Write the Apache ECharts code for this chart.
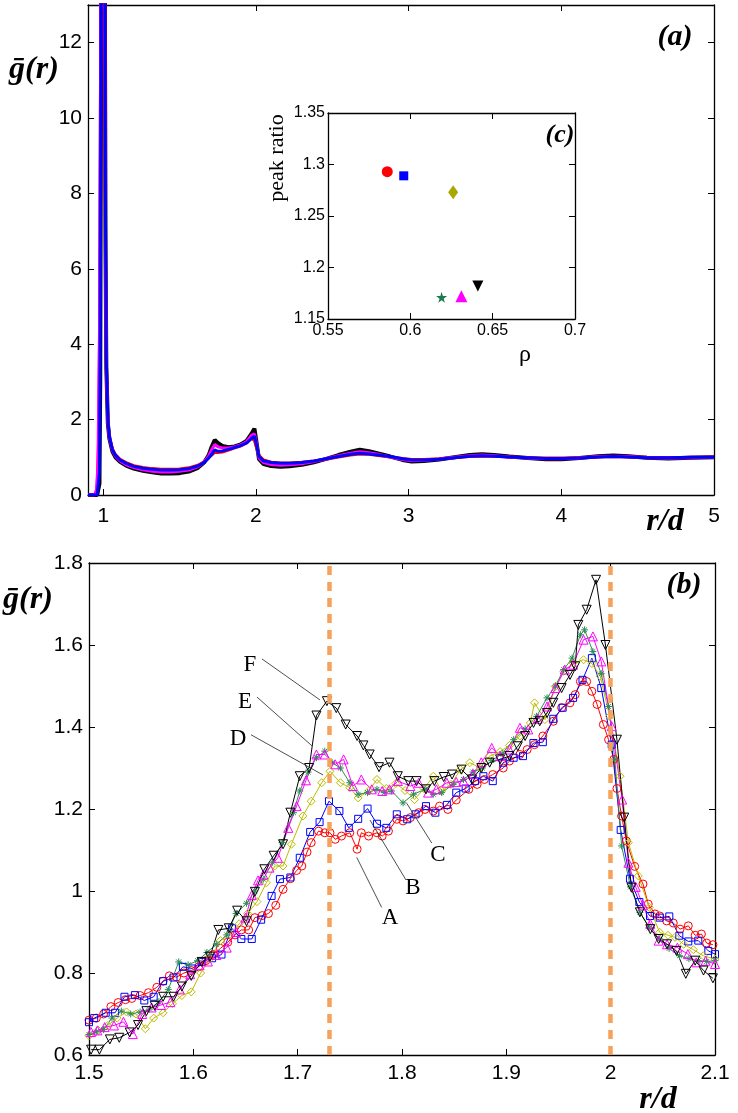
<!DOCTYPE html>
<html>
<head>
<meta charset="utf-8">
<script src="https://cdn.jsdelivr.net/npm/echarts@6/dist/echarts.min.js"></script>
<style>
html, body { margin: 0; padding: 0; background: #fff; }
#chart { width: 738px; height: 1113px; }
</style>
</head>
<body>
<div id="chart"></div>
<script>
// ---- panel (a): g(r) over the full range, one curve per packing ----
var topBlack = [[0.90,0],[0.96,0],[0.97,0.02],[0.975,0.3],[0.98,3],[0.985,11],[0.99,24],[0.995,32],[1.00,32],[1.005,25],[1.01,14],[1.015,6.5],[1.02,3.4],[1.03,1.9],[1.04,1.5],[1.06,1.15],[1.08,1.0],[1.11,0.88],[1.15,0.78],[1.20,0.7],[1.26,0.64],[1.32,0.6],[1.38,0.57],[1.44,0.57],[1.50,0.58],[1.56,0.62],[1.62,0.72],[1.66,0.86],[1.69,1.05],[1.71,1.28],[1.73,1.46],[1.75,1.38],[1.78,1.3],[1.82,1.27],[1.86,1.29],[1.90,1.34],[1.94,1.44],[1.97,1.62],[1.99,1.76],[2.00,1.5],[2.02,0.95],[2.05,0.82],[2.10,0.77],[2.16,0.75],[2.22,0.76],[2.30,0.8],[2.38,0.87],[2.46,0.96],[2.54,1.06],[2.62,1.15],[2.68,1.2],[2.74,1.16],[2.80,1.1],[2.88,1.02],[2.96,0.93],[3.02,0.89],[3.10,0.9],[3.20,0.94],[3.30,1.0],[3.40,1.06],[3.48,1.08],[3.56,1.06],[3.66,1.02],[3.78,0.98],[3.90,0.95],[4.00,0.95],[4.12,0.98],[4.24,1.03],[4.34,1.05],[4.44,1.03],[4.56,0.99],[4.70,0.97],[4.85,0.99],[5.00,1.0]];
var topRed = [[0.90,0],[0.945,0],[0.96,0.2],[0.97,1.5],[0.98,7],[0.985,13],[0.99,20],[0.995,24],[1.00,24],[1.005,19],[1.01,11],[1.015,6],[1.02,3.3],[1.03,1.95],[1.04,1.55],[1.06,1.22],[1.08,1.07],[1.11,0.95],[1.15,0.86],[1.20,0.78],[1.26,0.73],[1.32,0.7],[1.38,0.68],[1.44,0.68],[1.50,0.69],[1.56,0.72],[1.62,0.79],[1.66,0.88],[1.69,0.99],[1.71,1.06],[1.73,1.13],[1.75,1.13],[1.78,1.14],[1.82,1.19],[1.86,1.25],[1.90,1.3],[1.94,1.39],[1.97,1.5],[1.99,1.45],[2.00,1.3],[2.02,1.05],[2.05,0.93],[2.10,0.87],[2.16,0.85],[2.22,0.85],[2.30,0.87],[2.38,0.9],[2.46,0.95],[2.54,1.01],[2.62,1.06],[2.68,1.09],[2.74,1.08],[2.80,1.05],[2.88,1.01],[2.96,0.97],[3.02,0.94],[3.10,0.94],[3.20,0.96],[3.30,0.99],[3.40,1.02],[3.48,1.03],[3.56,1.03],[3.66,1.01],[3.78,0.99],[3.90,0.98],[4.00,0.98],[4.12,0.99],[4.24,1.01],[4.34,1.02],[4.44,1.01],[4.56,1.0],[4.70,0.99],[4.85,1.0],[5.00,1.0]];
var topMagenta = [[0.90,0],[0.94,0],[0.955,0.1],[0.965,0.8],[0.975,4],[0.985,14],[0.99,22],[0.995,27],[1.00,27],[1.005,22],[1.01,13],[1.015,6.5],[1.02,3.5],[1.03,1.95],[1.04,1.52],[1.06,1.18],[1.08,1.03],[1.11,0.9],[1.15,0.8],[1.20,0.73],[1.26,0.67],[1.32,0.63],[1.38,0.61],[1.44,0.61],[1.50,0.63],[1.56,0.66],[1.62,0.75],[1.66,0.87],[1.69,1.03],[1.71,1.2],[1.73,1.34],[1.75,1.28],[1.78,1.25],[1.82,1.25],[1.86,1.28],[1.90,1.33],[1.94,1.42],[1.97,1.58],[1.99,1.62],[2.00,1.45],[2.02,0.98],[2.05,0.86],[2.10,0.81],[2.16,0.79],[2.22,0.8],[2.30,0.83],[2.38,0.89],[2.46,0.96],[2.54,1.04],[2.62,1.11],[2.68,1.15],[2.74,1.12],[2.80,1.08],[2.88,1.01],[2.96,0.94],[3.02,0.91],[3.10,0.92],[3.20,0.95],[3.30,1.0],[3.40,1.04],[3.48,1.06],[3.56,1.04],[3.66,1.01],[3.78,0.98],[3.90,0.96],[4.00,0.96],[4.12,0.98],[4.24,1.02],[4.34,1.03],[4.44,1.02],[4.56,0.99],[4.70,0.98],[4.85,0.99],[5.00,1.0]];
var topBlue = [[0.90,0],[0.96,0],[0.97,0.05],[0.975,0.6],[0.98,4],[0.985,12],[0.99,22],[0.995,30],[1.00,30],[1.005,24],[1.01,14],[1.015,7],[1.02,3.6],[1.03,2.0],[1.04,1.55],[1.06,1.2],[1.08,1.05],[1.11,0.93],[1.15,0.84],[1.20,0.76],[1.26,0.71],[1.32,0.68],[1.38,0.66],[1.44,0.66],[1.50,0.67],[1.56,0.70],[1.62,0.77],[1.66,0.86],[1.69,0.98],[1.71,1.08],[1.73,1.2],[1.75,1.16],[1.78,1.17],[1.82,1.21],[1.86,1.26],[1.90,1.31],[1.94,1.38],[1.97,1.5],[1.99,1.56],[2.00,1.4],[2.02,1.02],[2.05,0.9],[2.10,0.86],[2.16,0.84],[2.22,0.84],[2.30,0.86],[2.38,0.9],[2.46,0.96],[2.54,1.02],[2.62,1.08],[2.68,1.11],[2.74,1.09],[2.80,1.06],[2.88,1.02],[2.96,0.96],[3.02,0.93],[3.10,0.93],[3.20,0.95],[3.30,0.99],[3.40,1.03],[3.48,1.04],[3.56,1.03],[3.66,1.01],[3.78,0.99],[3.90,0.97],[4.00,0.97],[4.12,0.98],[4.24,1.01],[4.34,1.02],[4.44,1.01],[4.56,0.99],[4.70,0.99],[4.85,1.0],[5.00,1.0]];

// ---- panel (c): peak ratio vs packing fraction ----
var rhoVals = [0.586, 0.596, 0.626, 0.619, 0.631, 0.641];
var ratioVals = [1.293, 1.289, 1.273, 1.171, 1.172, 1.182];

// ---- panel (b): zoom on the split second peak, series A..F ----
var serA = [[1.500,0.685],[1.507,0.690],[1.514,0.700],[1.521,0.718],[1.528,0.728],[1.535,0.735],[1.541,0.738],[1.549,0.745],[1.557,0.752],[1.565,0.765],[1.571,0.780],[1.577,0.793],[1.584,0.790],[1.591,0.800],[1.598,0.806],[1.605,0.815],[1.612,0.830],[1.619,0.845],[1.626,0.860],[1.633,0.875],[1.640,0.893],[1.646,0.905],[1.653,0.905],[1.659,0.935],[1.666,0.940],[1.672,0.945],[1.679,0.965],[1.686,1.004],[1.693,1.030],[1.699,1.050],[1.704,1.061],[1.709,1.095],[1.713,1.118],[1.720,1.146],[1.726,1.142],[1.731,1.142],[1.736,1.126],[1.742,1.134],[1.750,1.142],[1.757,1.102],[1.761,1.142],[1.768,1.134],[1.776,1.142],[1.781,1.134],[1.787,1.146],[1.795,1.175],[1.801,1.171],[1.808,1.179],[1.816,1.191],[1.822,1.199],[1.830,1.195],[1.836,1.207],[1.844,1.199],[1.852,1.222],[1.864,1.248],[1.872,1.260],[1.879,1.272],[1.887,1.284],[1.897,1.300],[1.903,1.317],[1.913,1.333],[1.920,1.345],[1.927,1.357],[1.935,1.378],[1.945,1.414],[1.953,1.447],[1.961,1.459],[1.966,1.479],[1.971,1.511],[1.977,1.511],[1.982,1.487],[1.987,1.455],[1.993,1.406],[1.998,1.369],[2.003,1.321],[2.006,1.250],[2.0105,1.183],[2.015,1.122],[2.023,1.060],[2.031,1.017],[2.036,0.968],[2.0425,0.944],[2.047,0.939],[2.0537,0.927],[2.060,0.922],[2.0665,0.907],[2.0744,0.915],[2.081,0.892],[2.087,0.895],[2.092,0.873],[2.098,0.869]];
var serB = [[1.500,0.680],[1.505,0.690],[1.516,0.703],[1.525,0.703],[1.534,0.742],[1.544,0.746],[1.553,0.733],[1.562,0.742],[1.571,0.780],[1.581,0.789],[1.590,0.815],[1.599,0.811],[1.608,0.827],[1.618,0.836],[1.627,0.845],[1.637,0.909],[1.646,0.883],[1.656,0.883],[1.665,0.930],[1.675,0.988],[1.683,1.029],[1.693,1.033],[1.702,1.081],[1.712,1.144],[1.721,1.168],[1.730,1.219],[1.740,1.195],[1.749,1.154],[1.758,1.176],[1.767,1.201],[1.776,1.164],[1.785,1.154],[1.795,1.187],[1.805,1.175],[1.813,1.187],[1.823,1.207],[1.832,1.191],[1.843,1.210],[1.852,1.240],[1.861,1.250],[1.870,1.268],[1.878,1.280],[1.887,1.268],[1.897,1.313],[1.907,1.325],[1.916,1.329],[1.926,1.361],[1.935,1.363],[1.945,1.420],[1.954,1.447],[1.964,1.471],[1.973,1.515],[1.982,1.568],[1.991,1.495],[2.001,1.357],[2.0096,1.149],[2.0185,1.030],[2.0275,0.973],[2.0377,0.939],[2.047,0.935],[2.0562,0.938],[2.0658,0.891],[2.0744,0.877],[2.084,0.879],[2.0936,0.854],[2.100,0.846]];
var serC = [[1.500,0.647],[1.509,0.660],[1.518,0.672],[1.527,0.690],[1.536,0.705],[1.545,0.700],[1.554,0.664],[1.562,0.690],[1.571,0.703],[1.580,0.725],[1.589,0.745],[1.598,0.754],[1.607,0.800],[1.616,0.835],[1.626,0.879],[1.635,0.895],[1.644,0.920],[1.652,0.945],[1.661,0.974],[1.670,1.020],[1.678,1.061],[1.686,1.061],[1.694,1.114],[1.705,1.183],[1.713,1.219],[1.723,1.264],[1.731,1.292],[1.741,1.264],[1.750,1.252],[1.758,1.227],[1.768,1.244],[1.776,1.272],[1.785,1.250],[1.794,1.262],[1.803,1.245],[1.812,1.223],[1.821,1.250],[1.830,1.280],[1.838,1.244],[1.847,1.260],[1.856,1.296],[1.865,1.313],[1.875,1.300],[1.884,1.329],[1.894,1.340],[1.903,1.355],[1.913,1.378],[1.923,1.410],[1.927,1.459],[1.937,1.418],[1.947,1.499],[1.955,1.536],[1.964,1.556],[1.974,1.564],[1.982,1.555],[1.990,1.524],[1.999,1.426],[2.009,1.280],[2.017,1.118],[2.0265,1.037],[2.037,0.960],[2.047,0.899],[2.055,0.892],[2.0617,0.887],[2.070,0.870],[2.0792,0.857],[2.0888,0.842],[2.100,0.834]];
var serD = [[1.500,0.650],[1.507,0.656],[1.514,0.662],[1.522,0.690],[1.531,0.707],[1.540,0.700],[1.549,0.705],[1.558,0.712],[1.567,0.730],[1.576,0.760],[1.586,0.827],[1.595,0.820],[1.604,0.830],[1.613,0.850],[1.622,0.870],[1.632,0.893],[1.641,0.945],[1.651,0.970],[1.659,1.000],[1.667,1.029],[1.676,1.070],[1.685,1.118],[1.696,1.191],[1.702,1.244],[1.710,1.290],[1.718,1.325],[1.726,1.341],[1.733,1.313],[1.741,1.300],[1.750,1.264],[1.758,1.236],[1.767,1.240],[1.776,1.248],[1.783,1.240],[1.790,1.244],[1.801,1.215],[1.811,1.236],[1.822,1.248],[1.830,1.236],[1.838,1.240],[1.849,1.260],[1.859,1.272],[1.868,1.290],[1.877,1.300],[1.886,1.318],[1.896,1.335],[1.907,1.369],[1.918,1.395],[1.929,1.426],[1.939,1.471],[1.947,1.500],[1.955,1.540],[1.963,1.568],[1.971,1.625],[1.975,1.637],[1.983,1.584],[1.991,1.530],[1.998,1.450],[2.004,1.321],[2.0105,1.110],[2.019,1.010],[2.028,0.948],[2.037,0.910],[2.047,0.883],[2.056,0.860],[2.066,0.842],[2.075,0.835],[2.084,0.830],[2.092,0.828],[2.100,0.830]];
var serE = [[1.502,0.656],[1.508,0.660],[1.515,0.668],[1.524,0.672],[1.533,0.681],[1.542,0.651],[1.551,0.700],[1.560,0.716],[1.569,0.722],[1.578,0.729],[1.587,0.760],[1.597,0.797],[1.606,0.819],[1.614,0.828],[1.622,0.844],[1.632,0.862],[1.641,0.900],[1.650,0.935],[1.656,0.990],[1.662,1.026],[1.667,1.040],[1.673,1.057],[1.681,1.081],[1.691,1.154],[1.699,1.207],[1.708,1.270],[1.718,1.333],[1.726,1.333],[1.736,1.309],[1.744,1.321],[1.753,1.256],[1.761,1.272],[1.771,1.248],[1.781,1.244],[1.788,1.248],[1.796,1.268],[1.808,1.256],[1.816,1.264],[1.825,1.240],[1.833,1.248],[1.843,1.264],[1.852,1.266],[1.859,1.268],[1.868,1.285],[1.876,1.314],[1.886,1.349],[1.894,1.329],[1.903,1.345],[1.913,1.398],[1.921,1.394],[1.930,1.420],[1.939,1.450],[1.947,1.495],[1.956,1.540],[1.964,1.552],[1.974,1.613],[1.983,1.621],[1.991,1.560],[2.001,1.402],[2.011,1.223],[2.017,1.069],[2.024,1.010],[2.031,0.965],[2.038,0.920],[2.046,0.879],[2.054,0.870],[2.064,0.862],[2.074,0.846],[2.082,0.826],[2.091,0.830],[2.100,0.822]];
var serF = [[1.502,0.613],[1.510,0.613],[1.520,0.638],[1.529,0.642],[1.539,0.655],[1.547,0.673],[1.555,0.707],[1.563,0.720],[1.571,0.742],[1.581,0.742],[1.589,0.767],[1.598,0.793],[1.608,0.827],[1.616,0.840],[1.624,0.905],[1.634,0.909],[1.642,0.952],[1.651,0.926],[1.659,0.998],[1.668,1.053],[1.677,1.086],[1.686,1.114],[1.693,1.191],[1.702,1.280],[1.711,1.300],[1.718,1.428],[1.728,1.463],[1.737,1.446],[1.746,1.406],[1.757,1.378],[1.763,1.355],[1.769,1.333],[1.778,1.302],[1.788,1.313],[1.796,1.280],[1.806,1.268],[1.814,1.268],[1.823,1.248],[1.831,1.268],[1.840,1.278],[1.848,1.284],[1.857,1.296],[1.867,1.272],[1.876,1.300],[1.884,1.313],[1.894,1.321],[1.903,1.329],[1.911,1.353],[1.918,1.378],[1.926,1.410],[1.932,1.414],[1.939,1.434],[1.945,1.459],[1.953,1.495],[1.961,1.527],[1.966,1.548],[1.969,1.649],[1.977,1.686],[1.986,1.759],[1.995,1.600],[2.006,1.369],[2.013,1.179],[2.020,1.008],[2.028,0.948],[2.038,0.907],[2.046,0.883],[2.054,0.870],[2.063,0.854],[2.072,0.798],[2.081,0.830],[2.089,0.806],[2.098,0.787]];

// reference lines r = sqrt(3) d and r = 2d
var refLines = [1.7321, 2.0];

// labels and leader lines of panel (b): [label, labelAt, lineFrom, lineTo]
var tags = [
  ['F', [1.6543, 1.551], [1.6658, 1.566], [1.7214, 1.466]],
  ['E', [1.6495, 1.461], [1.6610, 1.473], [1.7137, 1.354]],
  ['D', [1.6428, 1.371], [1.6553, 1.381], [1.7243, 1.283]],
  ['C', [1.8345, 1.088], [1.8045, 1.214], [1.8285, 1.117]],
  ['B', [1.8105, 1.007], [1.7693, 1.173], [1.8038, 1.027]],
  ['A', [1.7885, 0.934], [1.7566, 1.082], [1.7805, 0.960]]
];

var topXTicks = [1, 2, 3, 4, 5];
var topYTicks = [0, 2, 4, 6, 8, 10, 12];
var botXTicks = [1.5, 1.6, 1.7, 1.8, 1.9, 2, 2.1];
var botYTicks = [0.6, 0.8, 1, 1.2, 1.4, 1.6, 1.8];
var insXTicks = [0.55, 0.6, 0.65, 0.7];
var insYTicks = [1.15, 1.2, 1.25, 1.3, 1.35];

var SANS = 'Liberation Sans';
var SERIF = 'Liberation Serif, DejaVu Serif';

function axis(grid, pos, min, max, ticks, labels, fontSize, margin) {
    return {
        type: 'value', gridIndex: grid, position: pos, min: min, max: max,
        axisLine: { show: true, onZero: false, lineStyle: { color: '#000', width: 1.3 } },
        axisTick: { show: true, inside: true, length: 6, customValues: ticks, lineStyle: { color: '#000', width: 1 } },
        axisLabel: { show: labels, customValues: ticks, color: '#000', fontSize: fontSize, fontFamily: SANS, margin: margin },
        splitLine: { show: false }
    };
}

function curve(data, color, width) {
    return {
        type: 'line', xAxisIndex: 0, yAxisIndex: 0, data: data, showSymbol: false,
        lineStyle: { color: color, width: width }, itemStyle: { color: color }, clip: true, silent: true
    };
}

function markers(data, color, symbol, size, rotate) {
    return {
        type: 'line', xAxisIndex: 2, yAxisIndex: 2, data: data, clip: true, silent: true, z: 3,
        symbol: symbol, symbolSize: size, symbolRotate: rotate || 0, showSymbol: true, showAllSymbol: true,
        lineStyle: { color: color, width: 1 },
        itemStyle: { color: 'rgba(255,255,255,0)', borderColor: color, borderWidth: 1 }
    };
}

function dot(i, color, symbol, size, rotate) {
    return {
        type: 'scatter', xAxisIndex: 4, yAxisIndex: 4, silent: true,
        data: [[rhoVals[i], ratioVals[i]]], symbol: symbol, symbolSize: size, symbolRotate: rotate || 0,
        itemStyle: { color: color, opacity: 1 }
    };
}

function label(x, y, text, font, rot) {
    return {
        type: 'text', x: x, y: y, rotation: rot || 0,
        style: { text: text, font: font, fill: '#000', align: 'center', verticalAlign: 'middle', textAlign: 'center', textVerticalAlign: 'middle' }
    };
}

var ASTER = 'path://M5,0L5,10M0,5L10,5M1.5,1.5L8.5,8.5M1.5,8.5L8.5,1.5';
var STAR = 'path://M50,0L61,35L98,35L68,57L79,91L50,70L21,91L32,57L2,35L39,35Z';

var leaderLines = [];
var letterPoints = [];
for (var i = 0; i < tags.length; i++) {
    leaderLines.push([{ coord: tags[i][2] }, { coord: tags[i][3] }]);
    letterPoints.push({ name: tags[i][0], coord: tags[i][1] });
}

var option = {
    animation: false,
    backgroundColor: '#fff',
    grid: [
        { left: 88, top: 5, width: 626, height: 490 },
        { left: 89, top: 563, width: 626, height: 492 },
        { left: 328, top: 113, width: 247, height: 206 }
    ],
    xAxis: [
        axis(0, 'bottom', 0.9, 5, topXTicks, true, 21, 11),
        axis(0, 'top', 0.9, 5, topXTicks, false, 21, 8),
        axis(1, 'bottom', 1.5, 2.1, botXTicks, true, 21, 8),
        axis(1, 'top', 1.5, 2.1, botXTicks, false, 21, 8),
        axis(2, 'bottom', 0.55, 0.7, insXTicks, true, 16, 4),
        axis(2, 'top', 0.55, 0.7, insXTicks, false, 16, 4)
    ],
    yAxis: [
        axis(0, 'left', 0, 13, topYTicks, true, 21, 6),
        axis(0, 'right', 0, 13, topYTicks, false, 21, 6),
        axis(1, 'left', 0.6, 1.8, botYTicks, true, 21, 6),
        axis(1, 'right', 0.6, 1.8, botYTicks, false, 21, 6),
        axis(2, 'left', 1.15, 1.35, insYTicks, true, 16, 3),
        axis(2, 'right', 1.15, 1.35, insYTicks, false, 16, 3)
    ],
    series: [
        curve(topBlack, '#000000', 4),
        curve(topRed, '#ff0000', 3),
        curve(topMagenta, '#ff00ff', 3),
        curve(topBlue, '#0000ff', 3),

        // dashed guides of panel (b)
        {
            type: 'line', xAxisIndex: 2, yAxisIndex: 2, data: [], silent: true, z: 1,
            markLine: {
                silent: true, symbol: ['none', 'none'], label: { show: false }, animation: false,
                lineStyle: { color: '#f7a15a', width: 4.5, type: [9, 7] },
                data: refLines.map(function (v) { return { xAxis: v }; })
            }
        },
        markers(serA, '#ff0000', 'circle', 8),
        markers(serB, '#0000ff', 'rect', 7),
        markers(serC, '#bcbc00', 'diamond', 8),
        markers(serD, '#2e8b57', ASTER, 7),
        markers(serE, '#ff00ff', 'triangle', 9),
        markers(serF, '#000000', 'triangle', 9, 180),
        // leader lines and letters A..F
        {
            type: 'line', xAxisIndex: 2, yAxisIndex: 2, data: [], silent: true, z: 5,
            markLine: {
                silent: true, symbol: ['none', 'none'], label: { show: false }, animation: false,
                lineStyle: { color: '#222', width: 0.8, type: 'solid' },
                data: leaderLines
            },
            markPoint: {
                silent: true, symbol: 'circle', symbolSize: 1, animation: false,
                itemStyle: { color: 'rgba(0,0,0,0)' },
                label: {
                    show: true, position: 'inside', color: '#000', fontSize: 23, fontFamily: SERIF,
                    formatter: function (p) { return p.name; }
                },
                data: letterPoints
            }
        },

        dot(0, '#ff0000', 'circle', 11),
        dot(1, '#0000ff', 'rect', 9),
        dot(2, '#a8a800', 'diamond', [10, 14]),
        dot(3, '#1e7a4e', STAR, 11),
        dot(4, '#ff00ff', 'triangle', 12),
        dot(5, '#000000', 'triangle', 11, 180)
    ],
    graphic: [
        label(34, 70, 'ḡ(r)', 'italic bold 32px ' + SERIF),
        label(28, 600, 'ḡ(r)', 'italic bold 32px ' + SERIF),
        label(675, 37, '(a)', 'italic bold 30px ' + SERIF),
        label(684, 585, '(b)', 'italic bold 30px ' + SERIF),
        label(560, 135, '(c)', 'italic bold 26px ' + SERIF),
        label(665, 522, 'r/d', 'italic bold 32px ' + SERIF),
        label(658, 1100, 'r/d', 'italic bold 32px ' + SERIF),
        label(277, 158, 'peak ratio', '22px ' + SERIF, Math.PI / 2),
        label(525, 355, 'ρ', '24px ' + SERIF)
    ]
};

var chart = echarts.init(document.getElementById('chart'));
chart.setOption(option);
</script>
</body>
</html>
